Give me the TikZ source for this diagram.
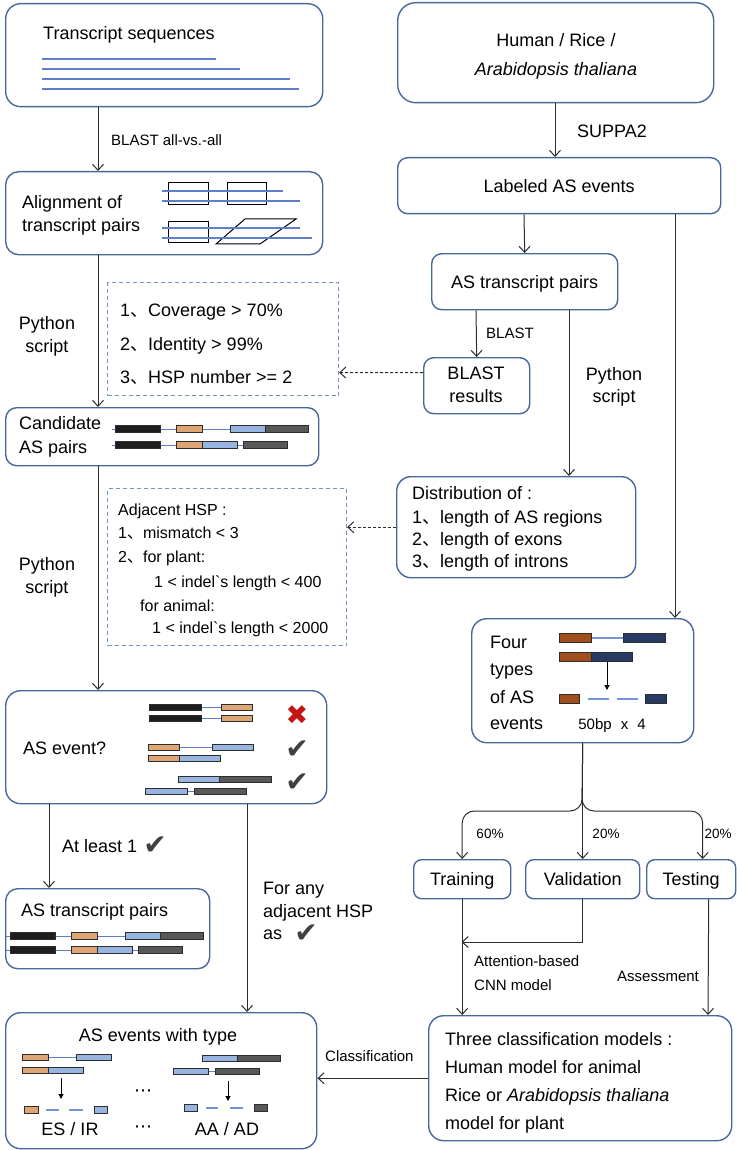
\documentclass[tikz,border=0pt]{standalone}
\usepackage{fontspec}
\setmainfont{Liberation Sans}
\newfontfamily\cjkf{Noto Sans CJK SC}
\newfontfamily\djv{DejaVu Sans}
\usetikzlibrary{arrows.meta}
\definecolor{bdr}{RGB}{72,104,156}
\definecolor{dbl}{RGB}{115,145,205}
\definecolor{lin}{RGB}{45,45,45}
\definecolor{seq}{RGB}{95,128,200}
\definecolor{bk}{RGB}{30,30,30}
\definecolor{orn}{RGB}{222,166,116}
\definecolor{lbl}{RGB}{152,180,224}
\definecolor{dgr}{RGB}{88,88,88}
\definecolor{brn}{RGB}{160,78,28}
\definecolor{nav}{RGB}{38,58,100}
\definecolor{thb}{RGB}{118,148,215}
\definecolor{ckc}{RGB}{64,64,64}
\definecolor{xrd}{RGB}{196,20,20}
\newcommand\dun{{\cjkf 、}}
\newcommand\gbar[5]{\draw[barst,fill=#1] (#2,{#4-#5/2}) rectangle (#3,{#4+#5/2});}
\newcommand\gln[3]{\draw[ln] (#1,#3) -- (#2,#3);}
\newcommand\gthk[3]{\draw[thk] (#1,#3) -- (#2,#3);}
\tikzset{
 bx/.style={draw=bdr, line width=1.4pt, rounded corners=#1, inner sep=0pt, anchor=north west},
 bx/.default=14pt,
 dbx/.style={draw=dbl, line width=1.1pt, dash pattern=on 4pt off 3pt, inner sep=0pt, anchor=north west},
 tA/.style={font=\fontsize{18}{21}\selectfont, inner sep=0pt, text height=13pt, text depth=0pt},
 tB/.style={font=\fontsize{15}{18}\selectfont, inner sep=0pt, text height=10.8pt, text depth=0pt},
 tC/.style={font=\fontsize{16}{19}\selectfont, inner sep=0pt, text height=11.5pt, text depth=0pt},
 tD/.style={font=\fontsize{13.5}{16}\selectfont, inner sep=0pt, text height=9.7pt, text depth=0pt},
 arr/.style={draw=lin, line width=1pt, -{Straight Barb[length=6pt,width=11pt]}},
 darr/.style={arr, dash pattern=on 3pt off 2pt},
 sarr/.style={draw=black, line width=1pt, -{Triangle[length=5pt,width=5pt]}},
 barst/.style={draw=lin, line width=0.8pt},
 ln/.style={draw=seq, line width=0.9pt},
 thk/.style={draw=thb, line width=2.6pt},
 seqln/.style={draw=seq, line width=1.2pt},
 shp/.style={draw=black, line width=1pt},
 ckst/.style={inner sep=0pt, text=ckc, font=\djv\fontsize{28}{28}\selectfont},
 xst/.style={inner sep=0pt, text=xrd, font=\djv\fontsize{27}{27}\selectfont},
}
\begin{document}
\begin{tikzpicture}[x=1pt,y=-1pt]
\useasboundingbox (0,0) rectangle (736,1150);

% ---------------- left column ----------------
\node[bx=15pt, minimum width=317pt, minimum height=103pt] (T) at (5,3) {};
\node[tA, anchor=west] (tT) at (43,33) {Transcript sequences};
\draw[seqln] (42,59) -- (216,59);
\draw[seqln] (42,69) -- (240,69);
\draw[seqln] (42,79) -- (290,79);
\draw[seqln] (42,89) -- (299,89);

\node[bx=13pt, minimum width=317pt, minimum height=83pt] (A) at (5,171) {};
\node[tA, anchor=west] (tA1) at (22,202) {Alignment of};
\node[tA, anchor=west] (tA2) at (22,225) {transcript pairs};
\draw[shp] (168,183) rectangle (208,205);
\draw[shp] (227,183) rectangle (266,205);
\draw[shp] (168,222) rectangle (208,243);
\draw[shp] (216,244) -- (260,244) -- (296,219) -- (245,219) -- cycle;
\draw[seqln] (162,191) -- (283,191);
\draw[seqln] (162,201) -- (300,201);
\draw[seqln] (162,228) -- (300,228);
\draw[seqln] (162,238) -- (312,238);

\draw[arr] ([xshift=93pt]T.south west) -- ([xshift=93pt]A.north west);
\node[tB, anchor=west] (lb1) at (111,140) {BLAST all-vs.-all};

\node[dbx, minimum width=231pt, minimum height=113pt] (D1) at (107,282) {};
\node[tA, anchor=west] (d11) at (120,310) {1\dun Coverage > 70\%};
\node[tA, anchor=west] (d12) at (120,344) {2\dun Identity > 99\%};
\node[tA, anchor=west] (d13) at (120,377) {3\dun HSP number >= 2};

\node[bx=11pt, minimum width=313pt, minimum height=58pt] (C) at (5,407) {};
\node[tA, anchor=west] (tC1) at (19,423) {Candidate};
\node[tA, anchor=west] (tC2) at (19,447) {AS pairs};
\gln{112}{265}{429}
\gbar{bk}{115}{160}{429}{7}\gbar{orn}{176}{202}{429}{7}\gbar{lbl}{230}{265}{429}{7}\gbar{dgr}{265}{308}{429}{7}
\gln{112}{243}{445}
\gbar{bk}{115}{160}{445}{7}\gbar{orn}{176}{202}{445}{7}\gbar{lbl}{202}{237}{445}{7}\gbar{dgr}{243}{287}{445}{7}

\draw[arr] ([xshift=93pt]A.south west) -- ([xshift=93pt]C.north west);
\node[tA] (py1) at (47,323) {Python};
\node[tA] (py2) at (47,346) {script};

\node[dbx, minimum width=239pt, minimum height=157pt] (D2) at (107,488) {};
\node[tC, anchor=west] (d21) at (118,510) {Adjacent HSP :};
\node[tC, anchor=west] (d22) at (118,533) {1\dun mismatch < 3};
\node[tC, anchor=west] (d23) at (118,557) {2\dun for plant:};
\node[tC, anchor=west] (d24) at (154,582) {1 < indel\textasciigrave s length < 400};
\node[tC, anchor=west] (d25) at (140,606) {for animal:};
\node[tC, anchor=west] (d26) at (152,628) {1 < indel\textasciigrave s length < 2000};

\node[bx=15pt, minimum width=321pt, minimum height=113pt] (E) at (5,690) {};
\node[tA, anchor=west] (tE) at (23,748) {AS event?};
\gln{201}{221}{707}\gbar{bk}{149}{201}{707}{6}\gbar{orn}{221}{252}{707}{6}
\gln{201}{221}{718}\gbar{bk}{149}{201}{718}{6}\gbar{orn}{221}{252}{718}{6}
\node[xst] (x1) at (297,715) {✖};
\gln{179}{212}{747}\gbar{orn}{148}{179}{747}{6}\gbar{lbl}{212}{253}{747}{6}
\gbar{orn}{148}{179}{758}{6}\gbar{lbl}{179}{220}{758}{6}
\node[ckst] (c1) at (297,750) {✔};
\gbar{lbl}{178}{219}{779}{6}\gbar{dgr}{219}{271}{779}{6}
\gln{187}{194}{791}\gbar{lbl}{145}{187}{791}{6}\gbar{dgr}{194}{246}{791}{6}
\node[ckst] (c2) at (297,783) {✔};

\draw[arr] ([xshift=93pt]C.south west) -- ([xshift=93pt]E.north west);
\node[tA] (py3) at (47,564) {Python};
\node[tA] (py4) at (47,587) {script};

\node[bx=12pt, minimum width=204pt, minimum height=80pt] (P) at (5,888) {};
\node[tA, anchor=west] (tP) at (21,910) {AS transcript pairs};
\gln{6}{203}{936}
\gbar{bk}{10}{55}{936}{7}\gbar{orn}{71}{97}{936}{7}\gbar{lbl}{125}{160}{936}{7}\gbar{dgr}{160}{203}{936}{7}
\gln{6}{182}{950}
\gbar{bk}{10}{55}{950}{7}\gbar{orn}{71}{97}{950}{7}\gbar{lbl}{97}{132}{950}{7}\gbar{dgr}{138}{182}{950}{7}

\draw[arr] ([xshift=44pt]E.south west) -- ([xshift=44pt]P.north west);
\node[tA, anchor=west] (al) at (62,846) {At least 1};
\node[ckst] (c3) at (155,846) {✔};

\node[bx=15pt, minimum width=311pt, minimum height=136pt] (W) at (5,1012) {};
\draw[arr] ([xshift=242pt]E.south west) -- ([xshift=242pt]W.north west);
\node[tA, anchor=west] (fa1) at (263,888) {For any};
\node[tA, anchor=west] (fa2) at (263,911) {adjacent HSP};
\node[tA, anchor=west] (fa3) at (263,933) {as};
\node[ckst] (c4) at (306,934) {✔};

\node[tA] (tW) at (158,1035) {AS events with type};
% left mini diagram
\gln{48}{76}{1057}\gbar{orn}{22}{48}{1057}{6}\gbar{lbl}{76}{111}{1057}{6}
\gbar{orn}{22}{48}{1070}{6}\gbar{lbl}{48}{83}{1070}{6}
\draw[sarr] (61,1078) -- (61,1099);
\gbar{orn}{24}{38}{1110}{7}\gthk{46}{59}{1110}\gthk{69}{83}{1110}\gbar{lbl}{94}{107}{1110}{7}
\node[tA] (es) at (70,1129) {ES / IR};
\node[inner sep=0pt, font=\djv\fontsize{18}{18}\selectfont] (dt1) at (143,1093) {⋯};
\node[inner sep=0pt, font=\djv\fontsize{18}{18}\selectfont] (dt2) at (143,1129) {⋯};
% right mini diagram
\gbar{lbl}{202}{237}{1058}{6}\gbar{dgr}{237}{280}{1058}{6}
\gln{208}{215}{1071}\gbar{lbl}{173}{208}{1071}{6}\gbar{dgr}{215}{259}{1071}{6}
\draw[sarr] (228,1081) -- (228,1101);
\gbar{lbl}{184}{197}{1108}{7}\gthk{206}{218}{1108}\gthk{230}{243}{1108}\gbar{dgr}{254}{267}{1108}{7}
\node[tA] (aa) at (227,1129) {AA / AD};

% ---------------- right column ----------------
\node[bx=18pt, minimum width=316pt, minimum height=100pt] (H) at (397,2) {};
\node[tA] (h1) at (556,40) {Human / Rice /};
\node[tA] (h2) at (556,69) {\itshape Arabidopsis thaliana};

\node[bx=10pt, tA, minimum width=323pt, minimum height=56pt] (L) at (397,157) {Labeled AS events};
\draw[arr] ([xshift=158pt]H.south west) -- ([xshift=158pt]L.north west);
\node[tA, anchor=west] (su) at (577,131) {SUPPA2};

\node[bx=10pt, tA, minimum width=186pt, minimum height=56pt] (R) at (431,253) {AS transcript pairs};
\draw[arr] ([xshift=127pt]L.south west) -- (R.north);

\node[bx=10pt, minimum width=106pt, minimum height=56pt] (B) at (423,357) {};
\node[tA] (b1) at (476,373) {BLAST};
\node[tA] (b2) at (476,396) {results};
\draw[arr] ([xshift=45pt]R.south west) -- (B.north);
\node[tB, anchor=west] (bl) at (486,333) {BLAST};
\draw[darr] ([yshift=13pt]B.west) -- ([yshift=-33.5pt]D1.east);

\node[bx=14pt, minimum width=239pt, minimum height=101pt] (D) at (396,476) {};
\node[tA, anchor=west] (dd1) at (412,493) {Distribution of :};
\node[tA, anchor=west] (dd2) at (412,517) {1\dun length of AS regions};
\node[tA, anchor=west] (dd3) at (412,539) {2\dun length of exons};
\node[tA, anchor=west] (dd4) at (412,561) {3\dun length of introns};
\draw[arr] ([xshift=138pt]R.south west) -- ([xshift=173pt]D.north west);
\node[tA] (py5) at (614,374) {Python};
\node[tA] (py6) at (614,396) {script};
\draw[darr] (D.west) -- (D.west -| D2.east);

\node[bx=15pt, minimum width=222pt, minimum height=124pt] (F) at (471,618) {};
\draw[arr] ([xshift=278pt]L.south west) -- ([xshift=204pt]F.north west);
\node[tA, anchor=west] (f1) at (490,642) {Four};
\node[tA, anchor=west] (f2) at (490,669) {types};
\node[tA, anchor=west] (f3) at (490,697) {of AS};
\node[tA, anchor=west] (f4) at (490,723) {events};
\gthk{591}{623}{638}\gbar{brn}{559}{591}{638}{9}\gbar{nav}{623}{665}{638}{9}
\gbar{brn}{559}{591}{657}{9}\gbar{nav}{591}{632}{657}{9}
\draw[sarr] (607,662) -- (607,690);
\gbar{brn}{559}{579}{699}{9}\gthk{588}{609}{699}\gthk{617}{638}{699}\gbar{nav}{645}{666}{699}{9}
\node[tB] (bp) at (612,724) {50bp\hspace{0.6em}x\hspace{0.6em}4};

\node[bx=8pt, tA, minimum width=97pt, minimum height=39pt] (Tr) at (413,859) {Training};
\node[bx=8pt, tA, minimum width=114pt, minimum height=39pt] (V) at (525,859) {Validation};
\node[bx=8pt, tA, minimum width=89pt, minimum height=39pt] (Te) at (646,859) {Testing};
\coordinate (split) at (582,811);
\draw[arr] (F.south) -- (V.north);
\draw[arr, rounded corners=12pt] (F.south) -- (split) -| (Tr.north);
\draw[arr, rounded corners=12pt] (F.south) -- (split) -| ([xshift=11.5pt]Te.north);
\node[tD] (p1) at (490,834) {60\%};
\node[tD] (p2) at (606,834) {20\%};
\node[tD] (p3) at (718,834) {20\%};

\node[bx=15pt, minimum width=303pt, minimum height=125pt] (Th) at (428,1015) {};
\node[tA, anchor=west] (th1) at (445,1039) {Three classification models :};
\node[tA, anchor=west] (th2) at (445,1067) {Human model for animal};
\node[tA, anchor=west] (th3) at (445,1095) {Rice or \textit{Arabidopsis thaliana}};
\node[tA, anchor=west] (th4) at (445,1123) {model for plant};

\coordinate (join) at (461.5,942);
\draw[arr] (Tr.south) -- (Tr.south |- Th.north);
\draw[arr] (V.south) |- (join);
\node[tB, anchor=west] (at1) at (474,961) {Attention-based};
\node[tB, anchor=west] (at2) at (474,985) {CNN model};
\draw[arr] ([xshift=17.5pt]Te.south) -- ([xshift=280pt]Th.north west);
\node[tB, anchor=west] (as) at (617,976) {Assessment};

\draw[arr] (Th.west) -- (Th.west -| W.east);
\node[tB, anchor=west] (cl) at (325,1056) {Classification};
\end{tikzpicture}
\end{document}
